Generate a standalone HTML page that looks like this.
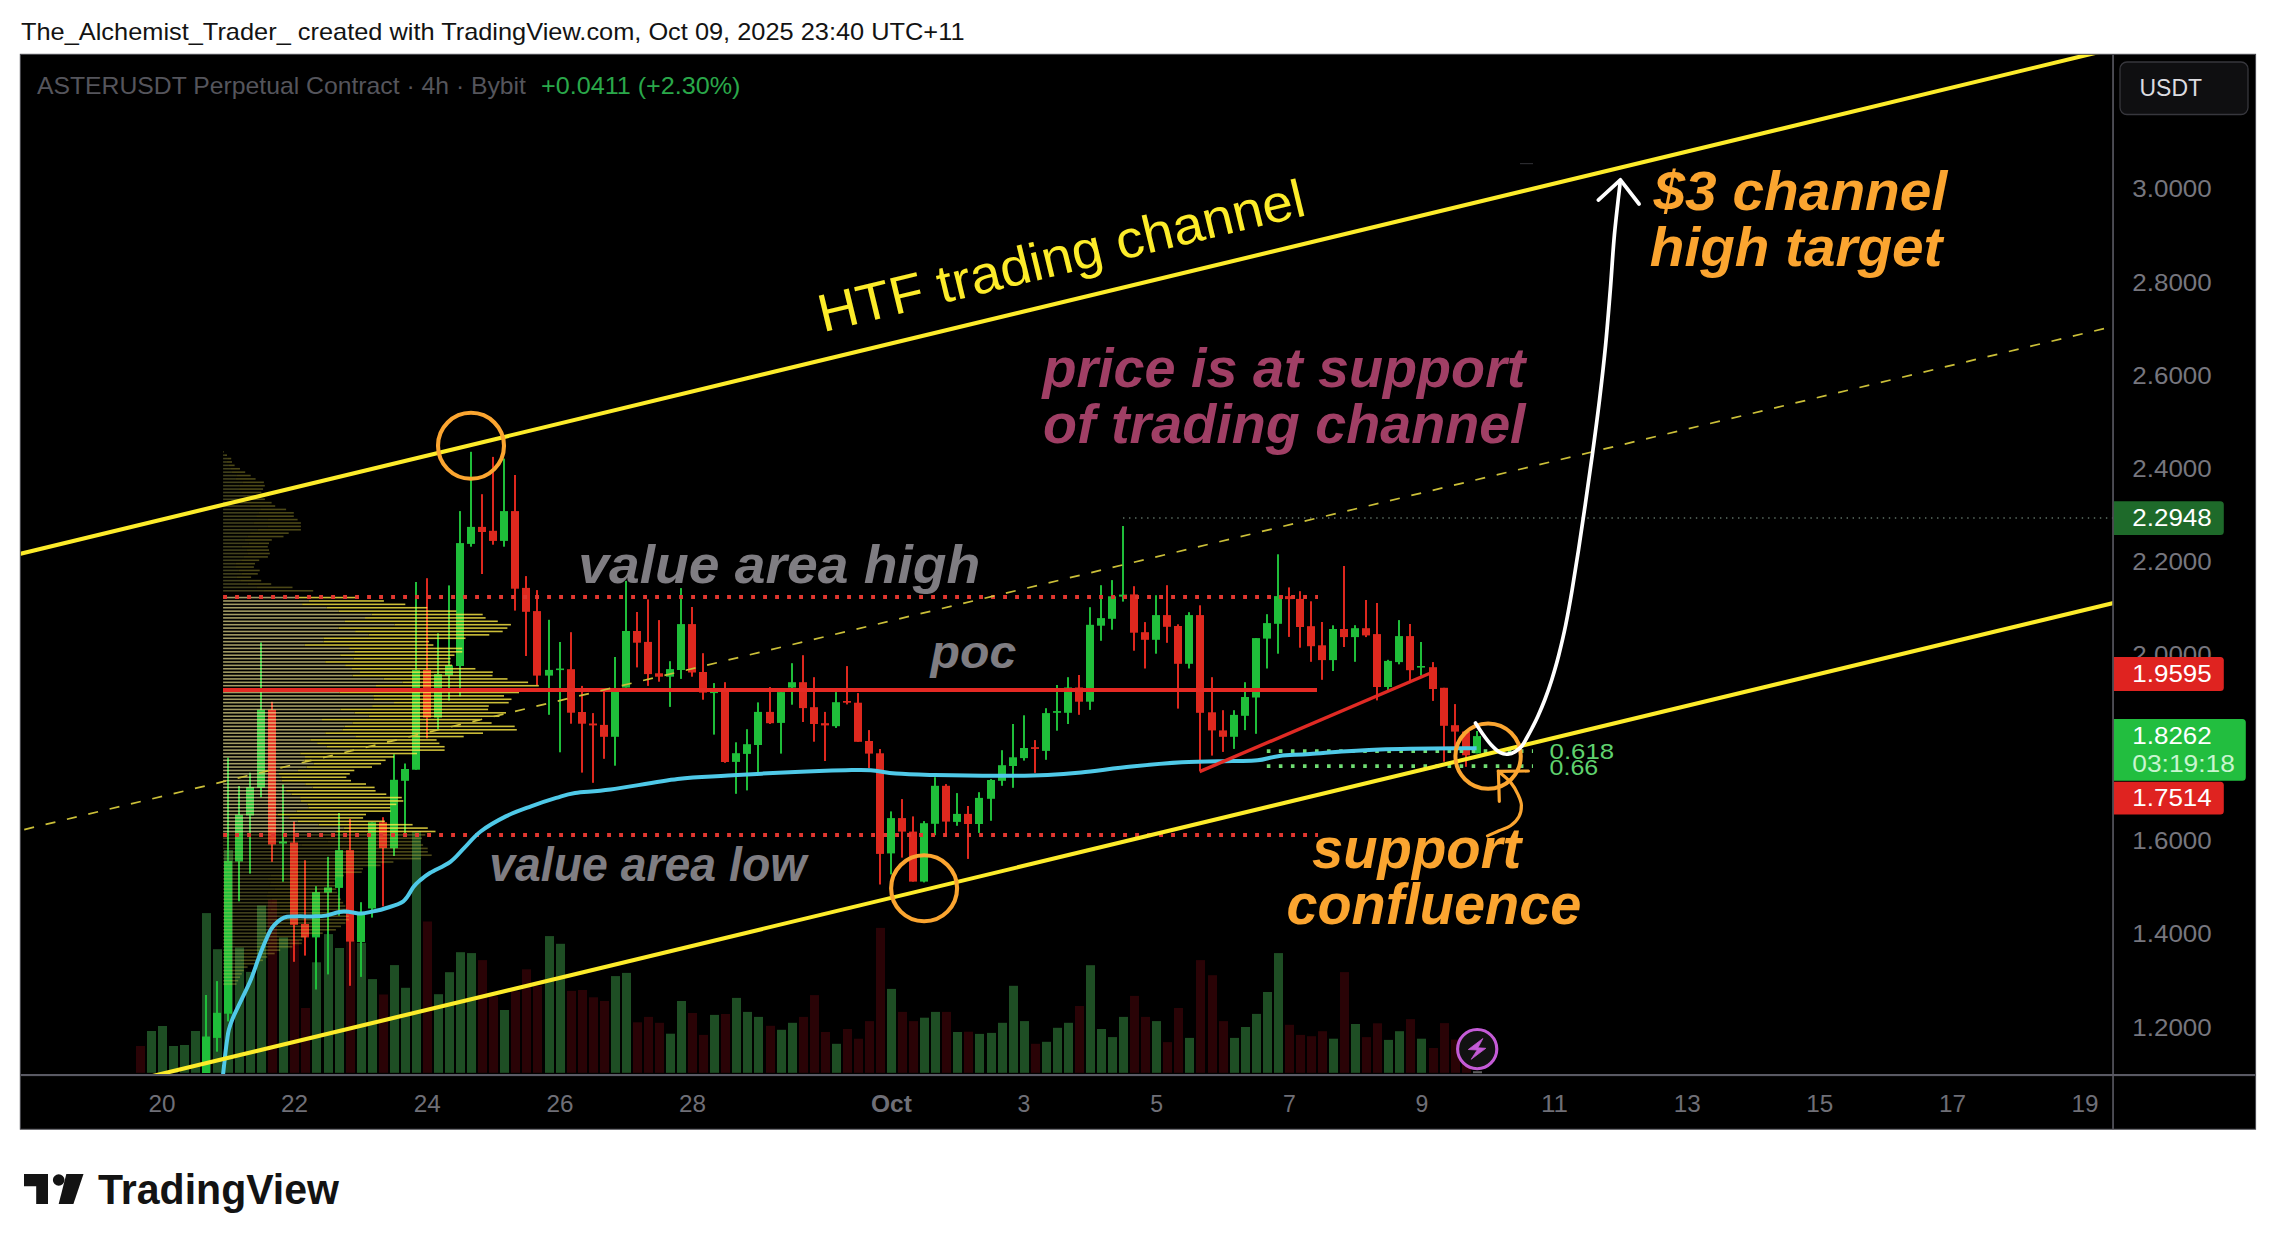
<!DOCTYPE html>
<html lang="en"><head><meta charset="utf-8"><title>ASTERUSDT chart</title>
<style>html,body{margin:0;padding:0;background:#fff;}body{width:2276px;height:1250px;overflow:hidden;}svg{display:block;}text{font-family:"Liberation Sans",sans-serif;}</style>
</head><body>
<svg width="2276" height="1250" viewBox="0 0 2276 1250">
<rect width="2276" height="1250" fill="#ffffff"/>
<text x="21" y="39.6" font-size="23.4" fill="#131313" textLength="943.5" lengthAdjust="spacingAndGlyphs">The_Alchemist_Trader_ created with TradingView.com, Oct 09, 2025 23:40 UTC+11</text>
<rect x="20.3" y="54.3" width="2235.3" height="1074.9" fill="#000000"/>
<clipPath id="plot"><rect x="20.3" y="54.3" width="2092.7" height="1020.9"/></clipPath>
<g clip-path="url(#plot)">
<rect x="136.0" y="1046.0" width="9" height="26.8" fill="#2a0306"/>
<rect x="147.0" y="1031.0" width="9" height="41.8" fill="#1e4e24"/>
<rect x="158.0" y="1026.0" width="9" height="46.8" fill="#1e4e24"/>
<rect x="169.0" y="1046.0" width="9" height="26.8" fill="#1e4e24"/>
<rect x="180.0" y="1045.0" width="9" height="27.8" fill="#1e4e24"/>
<rect x="191.0" y="1031.0" width="9" height="41.8" fill="#1e4e24"/>
<rect x="202.0" y="913.1" width="9" height="159.7" fill="#1e4e24"/>
<rect x="213.0" y="949.2" width="9" height="123.6" fill="#1e4e24"/>
<rect x="224.0" y="850.0" width="9" height="222.8" fill="#1e4e24"/>
<rect x="235.0" y="947.5" width="9" height="125.3" fill="#1e4e24"/>
<rect x="246.0" y="971.9" width="9" height="100.9" fill="#1e4e24"/>
<rect x="257.0" y="905.5" width="9" height="167.3" fill="#1e4e24"/>
<rect x="268.0" y="899.6" width="9" height="173.2" fill="#2a0306"/>
<rect x="279.0" y="937.4" width="9" height="135.4" fill="#1e4e24"/>
<rect x="290.0" y="940.0" width="9" height="132.8" fill="#2a0306"/>
<rect x="301.0" y="1008.0" width="9" height="64.8" fill="#2a0306"/>
<rect x="312.0" y="962.3" width="9" height="110.5" fill="#1e4e24"/>
<rect x="324.0" y="934.1" width="9" height="138.7" fill="#1e4e24"/>
<rect x="335.0" y="948.0" width="9" height="124.8" fill="#1e4e24"/>
<rect x="346.0" y="940.0" width="9" height="132.8" fill="#2a0306"/>
<rect x="357.0" y="942.8" width="9" height="130.0" fill="#1e4e24"/>
<rect x="368.0" y="979.1" width="9" height="93.7" fill="#1e4e24"/>
<rect x="379.0" y="994.5" width="9" height="78.3" fill="#2a0306"/>
<rect x="390.0" y="965.1" width="9" height="107.7" fill="#1e4e24"/>
<rect x="401.0" y="987.8" width="9" height="85.0" fill="#1e4e24"/>
<rect x="412.0" y="831.0" width="9" height="241.8" fill="#1e4e24"/>
<rect x="423.0" y="921.5" width="9" height="151.3" fill="#2a0306"/>
<rect x="434.0" y="994.2" width="9" height="78.6" fill="#1e4e24"/>
<rect x="445.0" y="972.2" width="9" height="100.6" fill="#1e4e24"/>
<rect x="456.0" y="952.2" width="9" height="120.6" fill="#1e4e24"/>
<rect x="467.0" y="953.1" width="9" height="119.7" fill="#1e4e24"/>
<rect x="478.0" y="960.1" width="9" height="112.7" fill="#2a0306"/>
<rect x="489.0" y="996.2" width="9" height="76.6" fill="#2a0306"/>
<rect x="500.0" y="1010.0" width="9" height="62.8" fill="#1e4e24"/>
<rect x="511.0" y="991.2" width="9" height="81.6" fill="#2a0306"/>
<rect x="522.0" y="969.3" width="9" height="103.5" fill="#2a0306"/>
<rect x="533.0" y="986.0" width="9" height="86.8" fill="#2a0306"/>
<rect x="545.0" y="936.1" width="9" height="136.7" fill="#1e4e24"/>
<rect x="556.0" y="943.8" width="9" height="129.0" fill="#1e4e24"/>
<rect x="567.0" y="990.9" width="9" height="81.9" fill="#2a0306"/>
<rect x="578.0" y="990.0" width="9" height="82.8" fill="#2a0306"/>
<rect x="589.0" y="997.3" width="9" height="75.5" fill="#2a0306"/>
<rect x="600.0" y="1001.0" width="9" height="71.8" fill="#2a0306"/>
<rect x="611.0" y="976.1" width="9" height="96.7" fill="#1e4e24"/>
<rect x="622.0" y="972.9" width="9" height="99.9" fill="#1e4e24"/>
<rect x="633.0" y="1022.3" width="9" height="50.5" fill="#2a0306"/>
<rect x="644.0" y="1016.9" width="9" height="55.9" fill="#2a0306"/>
<rect x="655.0" y="1022.8" width="9" height="50.0" fill="#2a0306"/>
<rect x="666.0" y="1033.7" width="9" height="39.1" fill="#1e4e24"/>
<rect x="677.0" y="1001.0" width="9" height="71.8" fill="#1e4e24"/>
<rect x="688.0" y="1013.0" width="9" height="59.8" fill="#2a0306"/>
<rect x="699.0" y="1034.9" width="9" height="37.9" fill="#2a0306"/>
<rect x="710.0" y="1014.9" width="9" height="57.9" fill="#1e4e24"/>
<rect x="721.0" y="1014.0" width="9" height="58.8" fill="#2a0306"/>
<rect x="732.0" y="997.9" width="9" height="74.9" fill="#1e4e24"/>
<rect x="743.0" y="1011.9" width="9" height="60.9" fill="#1e4e24"/>
<rect x="754.0" y="1016.9" width="9" height="55.9" fill="#1e4e24"/>
<rect x="766.0" y="1025.8" width="9" height="47.0" fill="#2a0306"/>
<rect x="777.0" y="1029.8" width="9" height="43.0" fill="#1e4e24"/>
<rect x="788.0" y="1022.8" width="9" height="50.0" fill="#1e4e24"/>
<rect x="799.0" y="1016.9" width="9" height="55.9" fill="#2a0306"/>
<rect x="810.0" y="995.1" width="9" height="77.7" fill="#2a0306"/>
<rect x="821.0" y="1032.0" width="9" height="40.8" fill="#2a0306"/>
<rect x="832.0" y="1043.8" width="9" height="29.0" fill="#1e4e24"/>
<rect x="843.0" y="1029.0" width="9" height="43.8" fill="#2a0306"/>
<rect x="854.0" y="1038.7" width="9" height="34.1" fill="#2a0306"/>
<rect x="865.0" y="1021.1" width="9" height="51.7" fill="#2a0306"/>
<rect x="876.0" y="927.9" width="9" height="144.9" fill="#2a0306"/>
<rect x="887.0" y="988.9" width="9" height="83.9" fill="#1e4e24"/>
<rect x="898.0" y="1011.9" width="9" height="60.9" fill="#2a0306"/>
<rect x="909.0" y="1021.1" width="9" height="51.7" fill="#2a0306"/>
<rect x="920.0" y="1017.7" width="9" height="55.1" fill="#1e4e24"/>
<rect x="931.0" y="1011.9" width="9" height="60.9" fill="#1e4e24"/>
<rect x="942.0" y="1011.9" width="9" height="60.9" fill="#2a0306"/>
<rect x="953.0" y="1032.0" width="9" height="40.8" fill="#1e4e24"/>
<rect x="964.0" y="1031.7" width="9" height="41.1" fill="#2a0306"/>
<rect x="975.0" y="1033.9" width="9" height="38.9" fill="#1e4e24"/>
<rect x="987.0" y="1032.9" width="9" height="39.9" fill="#1e4e24"/>
<rect x="998.0" y="1022.8" width="9" height="50.0" fill="#1e4e24"/>
<rect x="1009.0" y="985.8" width="9" height="87.0" fill="#1e4e24"/>
<rect x="1020.0" y="1021.1" width="9" height="51.7" fill="#1e4e24"/>
<rect x="1031.0" y="1043.8" width="9" height="29.0" fill="#2a0306"/>
<rect x="1042.0" y="1041.8" width="9" height="31.0" fill="#1e4e24"/>
<rect x="1053.0" y="1027.8" width="9" height="45.0" fill="#1e4e24"/>
<rect x="1064.0" y="1022.8" width="9" height="50.0" fill="#1e4e24"/>
<rect x="1075.0" y="1006.0" width="9" height="66.8" fill="#2a0306"/>
<rect x="1086.0" y="965.2" width="9" height="107.6" fill="#1e4e24"/>
<rect x="1097.0" y="1029.0" width="9" height="43.8" fill="#1e4e24"/>
<rect x="1108.0" y="1037.1" width="9" height="35.7" fill="#1e4e24"/>
<rect x="1119.0" y="1016.9" width="9" height="55.9" fill="#1e4e24"/>
<rect x="1130.0" y="995.9" width="9" height="76.9" fill="#2a0306"/>
<rect x="1141.0" y="1016.9" width="9" height="55.9" fill="#2a0306"/>
<rect x="1152.0" y="1021.1" width="9" height="51.7" fill="#1e4e24"/>
<rect x="1163.0" y="1042.1" width="9" height="30.7" fill="#2a0306"/>
<rect x="1174.0" y="1008.0" width="9" height="64.8" fill="#2a0306"/>
<rect x="1185.0" y="1037.9" width="9" height="34.9" fill="#1e4e24"/>
<rect x="1196.0" y="960.1" width="9" height="112.7" fill="#2a0306"/>
<rect x="1208.0" y="975.2" width="9" height="97.6" fill="#2a0306"/>
<rect x="1219.0" y="1021.1" width="9" height="51.7" fill="#2a0306"/>
<rect x="1230.0" y="1037.9" width="9" height="34.9" fill="#1e4e24"/>
<rect x="1241.0" y="1027.0" width="9" height="45.8" fill="#1e4e24"/>
<rect x="1252.0" y="1013.9" width="9" height="58.9" fill="#1e4e24"/>
<rect x="1263.0" y="992.0" width="9" height="80.8" fill="#1e4e24"/>
<rect x="1274.0" y="953.1" width="9" height="119.7" fill="#1e4e24"/>
<rect x="1285.0" y="1024.8" width="9" height="48.0" fill="#2a0306"/>
<rect x="1296.0" y="1034.9" width="9" height="37.9" fill="#2a0306"/>
<rect x="1307.0" y="1036.2" width="9" height="36.6" fill="#2a0306"/>
<rect x="1318.0" y="1031.2" width="9" height="41.6" fill="#2a0306"/>
<rect x="1329.0" y="1038.7" width="9" height="34.1" fill="#1e4e24"/>
<rect x="1340.0" y="972.1" width="9" height="100.7" fill="#2a0306"/>
<rect x="1351.0" y="1024.0" width="9" height="48.8" fill="#1e4e24"/>
<rect x="1362.0" y="1037.1" width="9" height="35.7" fill="#2a0306"/>
<rect x="1373.0" y="1023.3" width="9" height="49.5" fill="#2a0306"/>
<rect x="1384.0" y="1039.9" width="9" height="32.9" fill="#1e4e24"/>
<rect x="1395.0" y="1031.2" width="9" height="41.6" fill="#1e4e24"/>
<rect x="1406.0" y="1019.1" width="9" height="53.7" fill="#2a0306"/>
<rect x="1417.0" y="1038.7" width="9" height="34.1" fill="#1e4e24"/>
<rect x="1429.0" y="1048.0" width="9" height="24.8" fill="#2a0306"/>
<rect x="1440.0" y="1023.1" width="9" height="49.7" fill="#2a0306"/>
<rect x="1451.0" y="1039.6" width="9" height="33.2" fill="#2a0306"/>
<rect x="1462.0" y="1060.0" width="9" height="12.8" fill="#2a0306"/>
<rect x="1473.0" y="1074.0" width="9" height="-1.2" fill="#1e4e24"/>
<rect x="205.0" y="995.0" width="2" height="78.0" fill="#1fbe3a"/>
<rect x="202.0" y="1036.5" width="8" height="36.5" fill="#1fbe3a"/>
<rect x="216.0" y="981.1" width="2" height="70.6" fill="#1fbe3a"/>
<rect x="213.0" y="1012.8" width="8" height="25.1" fill="#1fbe3a"/>
<rect x="227.0" y="757.6" width="2" height="263.8" fill="#1fbe3a"/>
<rect x="224.0" y="861.0" width="8" height="152.7" fill="#1fbe3a"/>
<rect x="238.0" y="786.0" width="2" height="115.3" fill="#1fbe3a"/>
<rect x="235.0" y="814.7" width="8" height="46.8" fill="#1fbe3a"/>
<rect x="249.0" y="772.7" width="2" height="100.9" fill="#1fbe3a"/>
<rect x="246.0" y="787.0" width="8" height="28.5" fill="#1fbe3a"/>
<rect x="260.0" y="642.5" width="2" height="154.5" fill="#1fbe3a"/>
<rect x="257.0" y="709.7" width="8" height="78.1" fill="#1fbe3a"/>
<rect x="271.0" y="701.8" width="2" height="160.0" fill="#de281e"/>
<rect x="268.0" y="709.7" width="8" height="134.8" fill="#de281e"/>
<rect x="282.0" y="784.5" width="2" height="97.2" fill="#1fbe3a"/>
<rect x="279.0" y="841.5" width="8" height="2.0" fill="#1fbe3a"/>
<rect x="293.0" y="821.4" width="2" height="140.4" fill="#de281e"/>
<rect x="290.0" y="842.5" width="8" height="82.3" fill="#de281e"/>
<rect x="304.0" y="860.2" width="2" height="95.4" fill="#de281e"/>
<rect x="301.0" y="924.0" width="8" height="13.4" fill="#de281e"/>
<rect x="315.0" y="886.2" width="2" height="103.3" fill="#1fbe3a"/>
<rect x="312.0" y="892.1" width="8" height="45.3" fill="#1fbe3a"/>
<rect x="327.0" y="856.8" width="2" height="117.6" fill="#1fbe3a"/>
<rect x="324.0" y="887.5" width="8" height="5.1" fill="#1fbe3a"/>
<rect x="338.0" y="813.0" width="2" height="102.6" fill="#1fbe3a"/>
<rect x="335.0" y="850.1" width="8" height="37.8" fill="#1fbe3a"/>
<rect x="349.0" y="818.9" width="2" height="166.9" fill="#de281e"/>
<rect x="346.0" y="850.1" width="8" height="91.5" fill="#de281e"/>
<rect x="360.0" y="902.2" width="2" height="74.7" fill="#1fbe3a"/>
<rect x="357.0" y="913.9" width="8" height="28.1" fill="#1fbe3a"/>
<rect x="371.0" y="822.3" width="2" height="95.3" fill="#1fbe3a"/>
<rect x="368.0" y="822.3" width="8" height="86.2" fill="#1fbe3a"/>
<rect x="382.0" y="817.2" width="2" height="89.2" fill="#de281e"/>
<rect x="379.0" y="822.3" width="8" height="25.8" fill="#de281e"/>
<rect x="393.0" y="754.2" width="2" height="101.8" fill="#1fbe3a"/>
<rect x="390.0" y="779.8" width="8" height="68.4" fill="#1fbe3a"/>
<rect x="404.0" y="763.5" width="2" height="69.7" fill="#1fbe3a"/>
<rect x="401.0" y="769.0" width="8" height="11.8" fill="#1fbe3a"/>
<rect x="415.0" y="582.0" width="2" height="187.7" fill="#1fbe3a"/>
<rect x="412.0" y="669.9" width="8" height="99.8" fill="#1fbe3a"/>
<rect x="426.0" y="578.2" width="2" height="160.1" fill="#de281e"/>
<rect x="423.0" y="669.9" width="8" height="47.7" fill="#de281e"/>
<rect x="437.0" y="633.3" width="2" height="96.6" fill="#1fbe3a"/>
<rect x="434.0" y="674.1" width="8" height="43.5" fill="#1fbe3a"/>
<rect x="448.0" y="585.4" width="2" height="115.1" fill="#1fbe3a"/>
<rect x="445.0" y="665.2" width="8" height="10.1" fill="#1fbe3a"/>
<rect x="459.0" y="511.1" width="2" height="185.2" fill="#1fbe3a"/>
<rect x="456.0" y="543.1" width="8" height="122.9" fill="#1fbe3a"/>
<rect x="470.0" y="451.8" width="2" height="94.9" fill="#1fbe3a"/>
<rect x="467.0" y="526.9" width="8" height="17.0" fill="#1fbe3a"/>
<rect x="481.0" y="494.2" width="2" height="79.8" fill="#de281e"/>
<rect x="478.0" y="526.9" width="8" height="5.1" fill="#de281e"/>
<rect x="492.0" y="456.9" width="2" height="87.8" fill="#de281e"/>
<rect x="489.0" y="530.8" width="8" height="10.1" fill="#de281e"/>
<rect x="503.0" y="458.6" width="2" height="88.1" fill="#1fbe3a"/>
<rect x="500.0" y="511.1" width="8" height="29.8" fill="#1fbe3a"/>
<rect x="514.0" y="475.0" width="2" height="135.6" fill="#de281e"/>
<rect x="511.0" y="511.1" width="8" height="77.6" fill="#de281e"/>
<rect x="525.0" y="576.1" width="2" height="79.9" fill="#de281e"/>
<rect x="522.0" y="587.9" width="8" height="23.9" fill="#de281e"/>
<rect x="536.0" y="590.1" width="2" height="94.9" fill="#de281e"/>
<rect x="533.0" y="611.1" width="8" height="64.5" fill="#de281e"/>
<rect x="548.0" y="619.8" width="2" height="95.0" fill="#1fbe3a"/>
<rect x="545.0" y="669.9" width="8" height="5.7" fill="#1fbe3a"/>
<rect x="559.0" y="642.0" width="2" height="110.3" fill="#1fbe3a"/>
<rect x="556.0" y="668.5" width="8" height="1.6" fill="#1fbe3a"/>
<rect x="570.0" y="632.2" width="2" height="91.5" fill="#de281e"/>
<rect x="567.0" y="669.2" width="8" height="43.5" fill="#de281e"/>
<rect x="581.0" y="685.9" width="2" height="86.7" fill="#de281e"/>
<rect x="578.0" y="712.0" width="8" height="11.7" fill="#de281e"/>
<rect x="592.0" y="713.1" width="2" height="69.7" fill="#de281e"/>
<rect x="589.0" y="723.5" width="8" height="1.9" fill="#de281e"/>
<rect x="603.0" y="691.8" width="2" height="67.0" fill="#de281e"/>
<rect x="600.0" y="724.9" width="8" height="11.9" fill="#de281e"/>
<rect x="614.0" y="657.0" width="2" height="108.7" fill="#1fbe3a"/>
<rect x="611.0" y="691.8" width="8" height="45.0" fill="#1fbe3a"/>
<rect x="625.0" y="580.9" width="2" height="106.7" fill="#1fbe3a"/>
<rect x="622.0" y="631.0" width="8" height="56.6" fill="#1fbe3a"/>
<rect x="636.0" y="612.0" width="2" height="55.4" fill="#de281e"/>
<rect x="633.0" y="631.0" width="8" height="11.7" fill="#de281e"/>
<rect x="647.0" y="599.4" width="2" height="86.5" fill="#de281e"/>
<rect x="644.0" y="641.9" width="8" height="32.2" fill="#de281e"/>
<rect x="658.0" y="620.1" width="2" height="61.6" fill="#de281e"/>
<rect x="655.0" y="673.3" width="8" height="3.4" fill="#de281e"/>
<rect x="669.0" y="661.2" width="2" height="45.7" fill="#1fbe3a"/>
<rect x="666.0" y="669.1" width="8" height="7.6" fill="#1fbe3a"/>
<rect x="680.0" y="588.1" width="2" height="90.8" fill="#1fbe3a"/>
<rect x="677.0" y="624.1" width="8" height="45.9" fill="#1fbe3a"/>
<rect x="691.0" y="607.0" width="2" height="69.7" fill="#de281e"/>
<rect x="688.0" y="624.1" width="8" height="48.4" fill="#de281e"/>
<rect x="702.0" y="653.2" width="2" height="46.5" fill="#de281e"/>
<rect x="699.0" y="672.0" width="8" height="20.6" fill="#de281e"/>
<rect x="713.0" y="683.1" width="2" height="51.5" fill="#1fbe3a"/>
<rect x="710.0" y="691.5" width="8" height="1.6" fill="#1fbe3a"/>
<rect x="724.0" y="682.2" width="2" height="80.6" fill="#de281e"/>
<rect x="721.0" y="691.8" width="8" height="70.2" fill="#de281e"/>
<rect x="735.0" y="742.3" width="2" height="51.5" fill="#1fbe3a"/>
<rect x="732.0" y="753.2" width="8" height="8.7" fill="#1fbe3a"/>
<rect x="746.0" y="729.2" width="2" height="61.2" fill="#1fbe3a"/>
<rect x="743.0" y="744.2" width="8" height="9.7" fill="#1fbe3a"/>
<rect x="757.0" y="702.4" width="2" height="71.1" fill="#1fbe3a"/>
<rect x="754.0" y="711.9" width="8" height="33.1" fill="#1fbe3a"/>
<rect x="769.0" y="687.1" width="2" height="36.9" fill="#de281e"/>
<rect x="766.0" y="711.9" width="8" height="11.3" fill="#de281e"/>
<rect x="780.0" y="692.1" width="2" height="61.5" fill="#1fbe3a"/>
<rect x="777.0" y="692.1" width="8" height="30.8" fill="#1fbe3a"/>
<rect x="791.0" y="663.2" width="2" height="41.5" fill="#1fbe3a"/>
<rect x="788.0" y="682.2" width="8" height="5.4" fill="#1fbe3a"/>
<rect x="802.0" y="655.2" width="2" height="66.8" fill="#de281e"/>
<rect x="799.0" y="682.2" width="8" height="25.9" fill="#de281e"/>
<rect x="813.0" y="677.2" width="2" height="64.5" fill="#de281e"/>
<rect x="810.0" y="707.2" width="8" height="16.8" fill="#de281e"/>
<rect x="824.0" y="711.9" width="2" height="49.1" fill="#de281e"/>
<rect x="821.0" y="723.2" width="8" height="2.2" fill="#de281e"/>
<rect x="835.0" y="692.1" width="2" height="35.8" fill="#1fbe3a"/>
<rect x="832.0" y="702.2" width="8" height="24.0" fill="#1fbe3a"/>
<rect x="846.0" y="666.1" width="2" height="38.3" fill="#de281e"/>
<rect x="843.0" y="701.0" width="8" height="1.7" fill="#de281e"/>
<rect x="857.0" y="693.1" width="2" height="48.7" fill="#de281e"/>
<rect x="854.0" y="702.7" width="8" height="39.1" fill="#de281e"/>
<rect x="868.0" y="730.1" width="2" height="37.9" fill="#de281e"/>
<rect x="865.0" y="741.0" width="8" height="12.6" fill="#de281e"/>
<rect x="879.0" y="749.0" width="2" height="135.5" fill="#de281e"/>
<rect x="876.0" y="753.3" width="8" height="100.6" fill="#de281e"/>
<rect x="890.0" y="811.4" width="2" height="63.0" fill="#1fbe3a"/>
<rect x="887.0" y="818.1" width="8" height="35.3" fill="#1fbe3a"/>
<rect x="901.0" y="799.1" width="2" height="58.5" fill="#de281e"/>
<rect x="898.0" y="818.1" width="8" height="13.5" fill="#de281e"/>
<rect x="912.0" y="816.4" width="2" height="65.2" fill="#de281e"/>
<rect x="909.0" y="831.6" width="8" height="50.0" fill="#de281e"/>
<rect x="923.0" y="821.1" width="2" height="61.3" fill="#1fbe3a"/>
<rect x="920.0" y="823.2" width="8" height="58.4" fill="#1fbe3a"/>
<rect x="934.0" y="777.2" width="2" height="58.0" fill="#1fbe3a"/>
<rect x="931.0" y="785.8" width="8" height="38.0" fill="#1fbe3a"/>
<rect x="945.0" y="784.1" width="2" height="51.3" fill="#de281e"/>
<rect x="942.0" y="785.8" width="8" height="35.8" fill="#de281e"/>
<rect x="956.0" y="793.1" width="2" height="32.7" fill="#1fbe3a"/>
<rect x="953.0" y="813.9" width="8" height="8.0" fill="#1fbe3a"/>
<rect x="967.0" y="806.0" width="2" height="52.9" fill="#de281e"/>
<rect x="964.0" y="813.9" width="8" height="10.1" fill="#de281e"/>
<rect x="978.0" y="792.2" width="2" height="40.7" fill="#1fbe3a"/>
<rect x="975.0" y="797.9" width="8" height="26.1" fill="#1fbe3a"/>
<rect x="990.0" y="779.1" width="2" height="41.7" fill="#1fbe3a"/>
<rect x="987.0" y="780.0" width="8" height="18.8" fill="#1fbe3a"/>
<rect x="1001.0" y="750.2" width="2" height="35.6" fill="#1fbe3a"/>
<rect x="998.0" y="765.2" width="8" height="15.6" fill="#1fbe3a"/>
<rect x="1012.0" y="724.0" width="2" height="63.8" fill="#1fbe3a"/>
<rect x="1009.0" y="757.3" width="8" height="8.7" fill="#1fbe3a"/>
<rect x="1023.0" y="715.3" width="2" height="45.3" fill="#1fbe3a"/>
<rect x="1020.0" y="748.0" width="8" height="10.1" fill="#1fbe3a"/>
<rect x="1034.0" y="740.1" width="2" height="32.8" fill="#de281e"/>
<rect x="1031.0" y="747.2" width="8" height="1.7" fill="#de281e"/>
<rect x="1045.0" y="708.2" width="2" height="51.6" fill="#1fbe3a"/>
<rect x="1042.0" y="713.1" width="8" height="37.8" fill="#1fbe3a"/>
<rect x="1056.0" y="685.0" width="2" height="45.7" fill="#1fbe3a"/>
<rect x="1053.0" y="711.1" width="8" height="1.7" fill="#1fbe3a"/>
<rect x="1067.0" y="677.2" width="2" height="46.8" fill="#1fbe3a"/>
<rect x="1064.0" y="687.5" width="8" height="25.3" fill="#1fbe3a"/>
<rect x="1078.0" y="675.0" width="2" height="39.8" fill="#de281e"/>
<rect x="1075.0" y="687.5" width="8" height="14.2" fill="#de281e"/>
<rect x="1089.0" y="607.2" width="2" height="102.7" fill="#1fbe3a"/>
<rect x="1086.0" y="624.8" width="8" height="76.9" fill="#1fbe3a"/>
<rect x="1100.0" y="585.2" width="2" height="55.6" fill="#1fbe3a"/>
<rect x="1097.0" y="618.1" width="8" height="7.6" fill="#1fbe3a"/>
<rect x="1111.0" y="580.1" width="2" height="49.6" fill="#1fbe3a"/>
<rect x="1108.0" y="596.3" width="8" height="22.5" fill="#1fbe3a"/>
<rect x="1122.0" y="526.0" width="2" height="75.6" fill="#1fbe3a"/>
<rect x="1119.0" y="594.6" width="8" height="2.0" fill="#1fbe3a"/>
<rect x="1133.0" y="586.2" width="2" height="64.5" fill="#de281e"/>
<rect x="1130.0" y="594.4" width="8" height="38.3" fill="#de281e"/>
<rect x="1144.0" y="622.1" width="2" height="46.4" fill="#de281e"/>
<rect x="1141.0" y="632.2" width="8" height="7.6" fill="#de281e"/>
<rect x="1155.0" y="595.2" width="2" height="58.5" fill="#1fbe3a"/>
<rect x="1152.0" y="615.1" width="8" height="24.7" fill="#1fbe3a"/>
<rect x="1166.0" y="585.2" width="2" height="57.6" fill="#de281e"/>
<rect x="1163.0" y="615.1" width="8" height="11.7" fill="#de281e"/>
<rect x="1177.0" y="624.3" width="2" height="84.3" fill="#de281e"/>
<rect x="1174.0" y="626.0" width="8" height="37.8" fill="#de281e"/>
<rect x="1188.0" y="612.2" width="2" height="56.3" fill="#1fbe3a"/>
<rect x="1185.0" y="615.1" width="8" height="48.7" fill="#1fbe3a"/>
<rect x="1199.0" y="605.3" width="2" height="165.2" fill="#de281e"/>
<rect x="1196.0" y="615.1" width="8" height="97.7" fill="#de281e"/>
<rect x="1211.0" y="677.2" width="2" height="78.4" fill="#de281e"/>
<rect x="1208.0" y="712.3" width="8" height="18.1" fill="#de281e"/>
<rect x="1222.0" y="710.2" width="2" height="41.7" fill="#de281e"/>
<rect x="1219.0" y="730.4" width="8" height="6.4" fill="#de281e"/>
<rect x="1233.0" y="710.2" width="2" height="38.7" fill="#1fbe3a"/>
<rect x="1230.0" y="714.9" width="8" height="21.9" fill="#1fbe3a"/>
<rect x="1244.0" y="682.2" width="2" height="47.9" fill="#1fbe3a"/>
<rect x="1241.0" y="697.0" width="8" height="18.8" fill="#1fbe3a"/>
<rect x="1255.0" y="638.1" width="2" height="95.7" fill="#1fbe3a"/>
<rect x="1252.0" y="638.1" width="8" height="59.4" fill="#1fbe3a"/>
<rect x="1266.0" y="614.2" width="2" height="54.3" fill="#1fbe3a"/>
<rect x="1263.0" y="623.1" width="8" height="15.5" fill="#1fbe3a"/>
<rect x="1277.0" y="554.3" width="2" height="99.4" fill="#1fbe3a"/>
<rect x="1274.0" y="596.1" width="8" height="27.7" fill="#1fbe3a"/>
<rect x="1288.0" y="587.4" width="2" height="49.5" fill="#de281e"/>
<rect x="1285.0" y="596.1" width="8" height="3.0" fill="#de281e"/>
<rect x="1299.0" y="591.2" width="2" height="56.5" fill="#de281e"/>
<rect x="1296.0" y="598.9" width="8" height="28.1" fill="#de281e"/>
<rect x="1310.0" y="601.3" width="2" height="60.5" fill="#de281e"/>
<rect x="1307.0" y="626.2" width="8" height="20.0" fill="#de281e"/>
<rect x="1321.0" y="622.0" width="2" height="57.8" fill="#de281e"/>
<rect x="1318.0" y="645.3" width="8" height="14.8" fill="#de281e"/>
<rect x="1332.0" y="625.3" width="2" height="45.7" fill="#1fbe3a"/>
<rect x="1329.0" y="629.0" width="8" height="31.1" fill="#1fbe3a"/>
<rect x="1343.0" y="566.0" width="2" height="81.0" fill="#de281e"/>
<rect x="1340.0" y="629.0" width="8" height="8.1" fill="#de281e"/>
<rect x="1354.0" y="625.2" width="2" height="36.6" fill="#1fbe3a"/>
<rect x="1351.0" y="628.2" width="8" height="8.9" fill="#1fbe3a"/>
<rect x="1365.0" y="600.0" width="2" height="37.1" fill="#de281e"/>
<rect x="1362.0" y="628.2" width="8" height="7.2" fill="#de281e"/>
<rect x="1376.0" y="603.0" width="2" height="97.4" fill="#de281e"/>
<rect x="1373.0" y="634.1" width="8" height="52.9" fill="#de281e"/>
<rect x="1387.0" y="659.8" width="2" height="30.2" fill="#1fbe3a"/>
<rect x="1384.0" y="660.9" width="8" height="26.1" fill="#1fbe3a"/>
<rect x="1398.0" y="620.1" width="2" height="44.2" fill="#1fbe3a"/>
<rect x="1395.0" y="636.1" width="8" height="26.0" fill="#1fbe3a"/>
<rect x="1409.0" y="624.0" width="2" height="57.1" fill="#de281e"/>
<rect x="1406.0" y="636.1" width="8" height="34.1" fill="#de281e"/>
<rect x="1420.0" y="642.0" width="2" height="33.7" fill="#1fbe3a"/>
<rect x="1417.0" y="666.0" width="8" height="1.6" fill="#1fbe3a"/>
<rect x="1432.0" y="662.1" width="2" height="38.8" fill="#de281e"/>
<rect x="1429.0" y="667.2" width="8" height="21.8" fill="#de281e"/>
<rect x="1443.0" y="687.8" width="2" height="73.9" fill="#de281e"/>
<rect x="1440.0" y="687.8" width="8" height="38.0" fill="#de281e"/>
<rect x="1454.0" y="704.1" width="2" height="53.9" fill="#de281e"/>
<rect x="1451.0" y="725.2" width="8" height="6.4" fill="#de281e"/>
<rect x="1465.0" y="731.6" width="2" height="35.2" fill="#de281e"/>
<rect x="1462.0" y="731.6" width="8" height="23.7" fill="#de281e"/>
<rect x="1476.0" y="731.0" width="2" height="22.3" fill="#1fbe3a"/>
<rect x="1473.0" y="736.1" width="8" height="17.2" fill="#1fbe3a"/>
<rect x="223.1" y="451.00" width="0.4" height="1.6" fill="rgba(220,214,92,0.30)"/>
<rect x="223.5" y="451.00" width="0.4" height="1.6" fill="rgba(230,220,70,0.33)"/>
<rect x="223.1" y="454.39" width="1.6" height="1.6" fill="rgba(220,214,92,0.30)"/>
<rect x="224.7" y="454.39" width="2.3" height="1.6" fill="rgba(230,220,70,0.33)"/>
<rect x="223.1" y="457.78" width="4.2" height="1.6" fill="rgba(220,214,92,0.30)"/>
<rect x="227.3" y="457.78" width="3.9" height="1.6" fill="rgba(230,220,70,0.33)"/>
<rect x="223.1" y="461.17" width="3.5" height="1.6" fill="rgba(220,214,92,0.30)"/>
<rect x="226.6" y="461.17" width="5.4" height="1.6" fill="rgba(230,220,70,0.33)"/>
<rect x="223.1" y="464.56" width="5.7" height="1.6" fill="rgba(220,214,92,0.30)"/>
<rect x="228.8" y="464.56" width="5.8" height="1.6" fill="rgba(230,220,70,0.33)"/>
<rect x="223.1" y="467.95" width="7.8" height="1.6" fill="rgba(220,214,92,0.30)"/>
<rect x="230.9" y="467.95" width="9.1" height="1.6" fill="rgba(230,220,70,0.33)"/>
<rect x="223.1" y="471.34" width="8.7" height="1.6" fill="rgba(220,214,92,0.30)"/>
<rect x="231.8" y="471.34" width="13.4" height="1.6" fill="rgba(230,220,70,0.33)"/>
<rect x="223.1" y="474.73" width="13.6" height="1.6" fill="rgba(220,214,92,0.30)"/>
<rect x="236.7" y="474.73" width="14.0" height="1.6" fill="rgba(230,220,70,0.33)"/>
<rect x="223.1" y="478.12" width="12.6" height="1.6" fill="rgba(220,214,92,0.30)"/>
<rect x="235.7" y="478.12" width="19.9" height="1.6" fill="rgba(230,220,70,0.33)"/>
<rect x="223.1" y="481.51" width="19.4" height="1.6" fill="rgba(220,214,92,0.30)"/>
<rect x="242.5" y="481.51" width="21.4" height="1.6" fill="rgba(230,220,70,0.33)"/>
<rect x="223.1" y="484.90" width="16.5" height="1.6" fill="rgba(220,214,92,0.30)"/>
<rect x="239.6" y="484.90" width="25.2" height="1.6" fill="rgba(230,220,70,0.33)"/>
<rect x="223.1" y="488.29" width="16.0" height="1.6" fill="rgba(220,214,92,0.30)"/>
<rect x="239.1" y="488.29" width="24.0" height="1.6" fill="rgba(230,220,70,0.33)"/>
<rect x="223.1" y="491.68" width="18.1" height="1.6" fill="rgba(220,214,92,0.30)"/>
<rect x="241.2" y="491.68" width="20.1" height="1.6" fill="rgba(230,220,70,0.33)"/>
<rect x="223.1" y="495.07" width="23.6" height="1.6" fill="rgba(220,214,92,0.30)"/>
<rect x="246.7" y="495.07" width="18.4" height="1.6" fill="rgba(230,220,70,0.33)"/>
<rect x="223.1" y="498.46" width="17.0" height="1.6" fill="rgba(220,214,92,0.30)"/>
<rect x="240.1" y="498.46" width="24.8" height="1.6" fill="rgba(230,220,70,0.33)"/>
<rect x="223.1" y="501.85" width="20.8" height="1.6" fill="rgba(220,214,92,0.30)"/>
<rect x="243.9" y="501.85" width="27.7" height="1.6" fill="rgba(230,220,70,0.33)"/>
<rect x="223.1" y="505.24" width="27.0" height="1.6" fill="rgba(220,214,92,0.30)"/>
<rect x="250.1" y="505.24" width="25.1" height="1.6" fill="rgba(230,220,70,0.33)"/>
<rect x="223.1" y="508.63" width="37.1" height="1.6" fill="rgba(220,214,92,0.30)"/>
<rect x="260.2" y="508.63" width="25.9" height="1.6" fill="rgba(230,220,70,0.33)"/>
<rect x="223.1" y="512.02" width="35.8" height="1.6" fill="rgba(220,214,92,0.30)"/>
<rect x="258.9" y="512.02" width="34.9" height="1.6" fill="rgba(230,220,70,0.33)"/>
<rect x="223.1" y="515.41" width="33.0" height="1.6" fill="rgba(220,214,92,0.30)"/>
<rect x="256.1" y="515.41" width="37.7" height="1.6" fill="rgba(230,220,70,0.33)"/>
<rect x="223.1" y="518.80" width="44.3" height="1.6" fill="rgba(220,214,92,0.30)"/>
<rect x="267.4" y="518.80" width="30.2" height="1.6" fill="rgba(230,220,70,0.33)"/>
<rect x="223.1" y="522.19" width="30.4" height="1.6" fill="rgba(220,214,92,0.30)"/>
<rect x="253.5" y="522.19" width="47.4" height="1.6" fill="rgba(230,220,70,0.33)"/>
<rect x="223.1" y="525.58" width="44.3" height="1.6" fill="rgba(220,214,92,0.30)"/>
<rect x="267.4" y="525.58" width="33.5" height="1.6" fill="rgba(230,220,70,0.33)"/>
<rect x="223.1" y="528.97" width="34.5" height="1.6" fill="rgba(220,214,92,0.30)"/>
<rect x="257.6" y="528.97" width="43.3" height="1.6" fill="rgba(230,220,70,0.33)"/>
<rect x="223.1" y="532.36" width="27.0" height="1.6" fill="rgba(220,214,92,0.30)"/>
<rect x="250.1" y="532.36" width="38.6" height="1.6" fill="rgba(230,220,70,0.33)"/>
<rect x="223.1" y="535.75" width="24.5" height="1.6" fill="rgba(220,214,92,0.30)"/>
<rect x="247.6" y="535.75" width="35.9" height="1.6" fill="rgba(230,220,70,0.33)"/>
<rect x="223.1" y="539.14" width="21.8" height="1.6" fill="rgba(220,214,92,0.30)"/>
<rect x="244.9" y="539.14" width="26.9" height="1.6" fill="rgba(230,220,70,0.33)"/>
<rect x="223.1" y="542.53" width="25.7" height="1.6" fill="rgba(220,214,92,0.30)"/>
<rect x="248.8" y="542.53" width="20.2" height="1.6" fill="rgba(230,220,70,0.33)"/>
<rect x="223.1" y="545.92" width="18.8" height="1.6" fill="rgba(220,214,92,0.30)"/>
<rect x="241.9" y="545.92" width="25.9" height="1.6" fill="rgba(230,220,70,0.33)"/>
<rect x="223.1" y="549.31" width="23.3" height="1.6" fill="rgba(220,214,92,0.30)"/>
<rect x="246.4" y="549.31" width="22.6" height="1.6" fill="rgba(230,220,70,0.33)"/>
<rect x="223.1" y="552.70" width="24.3" height="1.6" fill="rgba(220,214,92,0.30)"/>
<rect x="247.4" y="552.70" width="22.4" height="1.6" fill="rgba(230,220,70,0.33)"/>
<rect x="223.1" y="556.09" width="20.7" height="1.6" fill="rgba(220,214,92,0.30)"/>
<rect x="243.8" y="556.09" width="24.1" height="1.6" fill="rgba(230,220,70,0.33)"/>
<rect x="223.1" y="559.48" width="18.1" height="1.6" fill="rgba(220,214,92,0.30)"/>
<rect x="241.2" y="559.48" width="18.0" height="1.6" fill="rgba(230,220,70,0.33)"/>
<rect x="223.1" y="562.87" width="12.6" height="1.6" fill="rgba(220,214,92,0.30)"/>
<rect x="235.7" y="562.87" width="19.3" height="1.6" fill="rgba(230,220,70,0.33)"/>
<rect x="223.1" y="566.26" width="12.1" height="1.6" fill="rgba(220,214,92,0.30)"/>
<rect x="235.2" y="566.26" width="18.7" height="1.6" fill="rgba(230,220,70,0.33)"/>
<rect x="223.1" y="569.65" width="15.6" height="1.6" fill="rgba(220,214,92,0.30)"/>
<rect x="238.7" y="569.65" width="21.0" height="1.6" fill="rgba(230,220,70,0.33)"/>
<rect x="223.1" y="573.04" width="18.4" height="1.6" fill="rgba(220,214,92,0.30)"/>
<rect x="241.5" y="573.04" width="16.3" height="1.6" fill="rgba(230,220,70,0.33)"/>
<rect x="223.1" y="576.43" width="13.3" height="1.6" fill="rgba(220,214,92,0.30)"/>
<rect x="236.4" y="576.43" width="14.7" height="1.6" fill="rgba(230,220,70,0.33)"/>
<rect x="223.1" y="579.82" width="17.1" height="1.6" fill="rgba(220,214,92,0.30)"/>
<rect x="240.2" y="579.82" width="21.0" height="1.6" fill="rgba(230,220,70,0.33)"/>
<rect x="223.1" y="583.21" width="24.5" height="1.6" fill="rgba(220,214,92,0.30)"/>
<rect x="247.6" y="583.21" width="23.6" height="1.6" fill="rgba(230,220,70,0.33)"/>
<rect x="223.1" y="586.60" width="33.3" height="1.6" fill="rgba(220,214,92,0.30)"/>
<rect x="256.4" y="586.60" width="36.1" height="1.6" fill="rgba(230,220,70,0.33)"/>
<rect x="223.1" y="589.99" width="40.2" height="1.6" fill="rgba(220,214,92,0.30)"/>
<rect x="263.3" y="589.99" width="49.9" height="1.6" fill="rgba(230,220,70,0.33)"/>
<rect x="223.1" y="596.77" width="74.7" height="1.6" fill="rgba(246,236,152,0.66)"/>
<rect x="297.8" y="596.77" width="60.0" height="1.6" fill="rgba(255,238,70,0.80)"/>
<rect x="223.1" y="600.16" width="85.8" height="1.6" fill="rgba(246,236,152,0.66)"/>
<rect x="308.9" y="600.16" width="75.0" height="1.6" fill="rgba(255,238,70,0.80)"/>
<rect x="223.1" y="603.55" width="79.0" height="1.6" fill="rgba(246,236,152,0.66)"/>
<rect x="302.1" y="603.55" width="103.2" height="1.6" fill="rgba(255,238,70,0.80)"/>
<rect x="223.1" y="606.94" width="103.4" height="1.6" fill="rgba(246,236,152,0.66)"/>
<rect x="326.5" y="606.94" width="100.8" height="1.6" fill="rgba(255,238,70,0.80)"/>
<rect x="223.1" y="610.33" width="115.6" height="1.6" fill="rgba(246,236,152,0.66)"/>
<rect x="338.7" y="610.33" width="117.7" height="1.6" fill="rgba(255,238,70,0.80)"/>
<rect x="223.1" y="613.72" width="148.6" height="1.6" fill="rgba(246,236,152,0.66)"/>
<rect x="371.7" y="613.72" width="111.0" height="1.6" fill="rgba(255,238,70,0.80)"/>
<rect x="223.1" y="617.11" width="141.9" height="1.6" fill="rgba(246,236,152,0.66)"/>
<rect x="365.0" y="617.11" width="120.6" height="1.6" fill="rgba(255,238,70,0.80)"/>
<rect x="223.1" y="620.50" width="121.8" height="1.6" fill="rgba(246,236,152,0.66)"/>
<rect x="344.9" y="620.50" width="152.9" height="1.6" fill="rgba(255,238,70,0.80)"/>
<rect x="223.1" y="623.89" width="171.4" height="1.6" fill="rgba(246,236,152,0.66)"/>
<rect x="394.5" y="623.89" width="116.4" height="1.6" fill="rgba(255,238,70,0.80)"/>
<rect x="223.1" y="627.28" width="115.4" height="1.6" fill="rgba(246,236,152,0.66)"/>
<rect x="338.5" y="627.28" width="168.9" height="1.6" fill="rgba(255,238,70,0.80)"/>
<rect x="223.1" y="630.67" width="132.0" height="1.6" fill="rgba(246,236,152,0.66)"/>
<rect x="355.1" y="630.67" width="147.6" height="1.6" fill="rgba(255,238,70,0.80)"/>
<rect x="223.1" y="634.06" width="145.5" height="1.6" fill="rgba(246,236,152,0.66)"/>
<rect x="368.6" y="634.06" width="120.7" height="1.6" fill="rgba(255,238,70,0.80)"/>
<rect x="223.1" y="637.45" width="100.2" height="1.6" fill="rgba(246,236,152,0.66)"/>
<rect x="323.3" y="637.45" width="142.2" height="1.6" fill="rgba(255,238,70,0.80)"/>
<rect x="223.1" y="640.84" width="100.4" height="1.6" fill="rgba(246,236,152,0.66)"/>
<rect x="323.5" y="640.84" width="105.6" height="1.6" fill="rgba(255,238,70,0.80)"/>
<rect x="223.1" y="644.23" width="81.7" height="1.6" fill="rgba(246,236,152,0.66)"/>
<rect x="304.8" y="644.23" width="128.6" height="1.6" fill="rgba(255,238,70,0.80)"/>
<rect x="223.1" y="647.62" width="126.0" height="1.6" fill="rgba(246,236,152,0.66)"/>
<rect x="349.1" y="647.62" width="113.1" height="1.6" fill="rgba(255,238,70,0.80)"/>
<rect x="223.1" y="651.01" width="131.1" height="1.6" fill="rgba(246,236,152,0.66)"/>
<rect x="354.2" y="651.01" width="108.1" height="1.6" fill="rgba(255,238,70,0.80)"/>
<rect x="223.1" y="654.40" width="117.1" height="1.6" fill="rgba(246,236,152,0.66)"/>
<rect x="340.2" y="654.40" width="114.3" height="1.6" fill="rgba(255,238,70,0.80)"/>
<rect x="223.1" y="657.79" width="130.3" height="1.6" fill="rgba(246,236,152,0.66)"/>
<rect x="353.4" y="657.79" width="97.2" height="1.6" fill="rgba(255,238,70,0.80)"/>
<rect x="223.1" y="661.18" width="102.1" height="1.6" fill="rgba(246,236,152,0.66)"/>
<rect x="325.2" y="661.18" width="125.2" height="1.6" fill="rgba(255,238,70,0.80)"/>
<rect x="223.1" y="664.57" width="122.0" height="1.6" fill="rgba(246,236,152,0.66)"/>
<rect x="345.1" y="664.57" width="106.9" height="1.6" fill="rgba(255,238,70,0.80)"/>
<rect x="223.1" y="667.96" width="128.9" height="1.6" fill="rgba(246,236,152,0.66)"/>
<rect x="352.0" y="667.96" width="123.4" height="1.6" fill="rgba(255,238,70,0.80)"/>
<rect x="223.1" y="671.35" width="136.9" height="1.6" fill="rgba(246,236,152,0.66)"/>
<rect x="360.0" y="671.35" width="132.8" height="1.6" fill="rgba(255,238,70,0.80)"/>
<rect x="223.1" y="674.74" width="129.4" height="1.6" fill="rgba(246,236,152,0.66)"/>
<rect x="352.5" y="674.74" width="140.0" height="1.6" fill="rgba(255,238,70,0.80)"/>
<rect x="223.1" y="678.13" width="160.6" height="1.6" fill="rgba(246,236,152,0.66)"/>
<rect x="383.7" y="678.13" width="123.8" height="1.6" fill="rgba(255,238,70,0.80)"/>
<rect x="223.1" y="681.52" width="179.3" height="1.6" fill="rgba(246,236,152,0.66)"/>
<rect x="402.4" y="681.52" width="125.7" height="1.6" fill="rgba(255,238,70,0.80)"/>
<rect x="223.1" y="684.91" width="152.9" height="1.6" fill="rgba(246,236,152,0.66)"/>
<rect x="376.0" y="684.91" width="162.8" height="1.6" fill="rgba(255,238,70,0.80)"/>
<rect x="223.1" y="688.30" width="170.0" height="1.6" fill="rgba(246,236,152,0.66)"/>
<rect x="393.1" y="688.30" width="153.1" height="1.6" fill="rgba(255,238,70,0.80)"/>
<rect x="223.1" y="691.69" width="116.4" height="1.6" fill="rgba(246,236,152,0.66)"/>
<rect x="339.5" y="691.69" width="179.5" height="1.6" fill="rgba(255,238,70,0.80)"/>
<rect x="223.1" y="695.08" width="150.1" height="1.6" fill="rgba(246,236,152,0.66)"/>
<rect x="373.2" y="695.08" width="130.8" height="1.6" fill="rgba(255,238,70,0.80)"/>
<rect x="223.1" y="698.47" width="150.7" height="1.6" fill="rgba(246,236,152,0.66)"/>
<rect x="373.8" y="698.47" width="137.7" height="1.6" fill="rgba(255,238,70,0.80)"/>
<rect x="223.1" y="701.86" width="170.9" height="1.6" fill="rgba(246,236,152,0.66)"/>
<rect x="394.0" y="701.86" width="114.7" height="1.6" fill="rgba(255,238,70,0.80)"/>
<rect x="223.1" y="705.25" width="149.0" height="1.6" fill="rgba(246,236,152,0.66)"/>
<rect x="372.1" y="705.25" width="116.7" height="1.6" fill="rgba(255,238,70,0.80)"/>
<rect x="223.1" y="708.64" width="117.3" height="1.6" fill="rgba(246,236,152,0.66)"/>
<rect x="340.4" y="708.64" width="147.7" height="1.6" fill="rgba(255,238,70,0.80)"/>
<rect x="223.1" y="712.03" width="131.5" height="1.6" fill="rgba(246,236,152,0.66)"/>
<rect x="354.6" y="712.03" width="151.4" height="1.6" fill="rgba(255,238,70,0.80)"/>
<rect x="223.1" y="715.42" width="145.7" height="1.6" fill="rgba(246,236,152,0.66)"/>
<rect x="368.8" y="715.42" width="130.7" height="1.6" fill="rgba(255,238,70,0.80)"/>
<rect x="223.1" y="718.81" width="98.9" height="1.6" fill="rgba(246,236,152,0.66)"/>
<rect x="322.0" y="718.81" width="158.0" height="1.6" fill="rgba(255,238,70,0.80)"/>
<rect x="223.1" y="722.20" width="129.3" height="1.6" fill="rgba(246,236,152,0.66)"/>
<rect x="352.4" y="722.20" width="139.2" height="1.6" fill="rgba(255,238,70,0.80)"/>
<rect x="223.1" y="725.59" width="121.6" height="1.6" fill="rgba(246,236,152,0.66)"/>
<rect x="344.7" y="725.59" width="170.0" height="1.6" fill="rgba(255,238,70,0.80)"/>
<rect x="223.1" y="728.98" width="119.2" height="1.6" fill="rgba(246,236,152,0.66)"/>
<rect x="342.3" y="728.98" width="174.5" height="1.6" fill="rgba(255,238,70,0.80)"/>
<rect x="223.1" y="732.37" width="102.1" height="1.6" fill="rgba(246,236,152,0.66)"/>
<rect x="325.2" y="732.37" width="157.8" height="1.6" fill="rgba(255,238,70,0.80)"/>
<rect x="223.1" y="735.76" width="132.1" height="1.6" fill="rgba(246,236,152,0.66)"/>
<rect x="355.2" y="735.76" width="108.5" height="1.6" fill="rgba(255,238,70,0.80)"/>
<rect x="223.1" y="739.15" width="87.2" height="1.6" fill="rgba(246,236,152,0.66)"/>
<rect x="310.3" y="739.15" width="126.3" height="1.6" fill="rgba(255,238,70,0.80)"/>
<rect x="223.1" y="742.54" width="94.0" height="1.6" fill="rgba(246,236,152,0.66)"/>
<rect x="317.1" y="742.54" width="122.3" height="1.6" fill="rgba(255,238,70,0.80)"/>
<rect x="223.1" y="745.93" width="103.2" height="1.6" fill="rgba(246,236,152,0.66)"/>
<rect x="326.3" y="745.93" width="118.3" height="1.6" fill="rgba(255,238,70,0.80)"/>
<rect x="223.1" y="749.32" width="126.6" height="1.6" fill="rgba(246,236,152,0.66)"/>
<rect x="349.7" y="749.32" width="94.9" height="1.6" fill="rgba(255,238,70,0.80)"/>
<rect x="223.1" y="752.71" width="77.1" height="1.6" fill="rgba(246,236,152,0.66)"/>
<rect x="300.2" y="752.71" width="116.8" height="1.6" fill="rgba(255,238,70,0.80)"/>
<rect x="223.1" y="756.10" width="81.9" height="1.6" fill="rgba(246,236,152,0.66)"/>
<rect x="305.0" y="756.10" width="89.2" height="1.6" fill="rgba(255,238,70,0.80)"/>
<rect x="223.1" y="759.49" width="81.4" height="1.6" fill="rgba(246,236,152,0.66)"/>
<rect x="304.5" y="759.49" width="81.1" height="1.6" fill="rgba(255,238,70,0.80)"/>
<rect x="223.1" y="762.88" width="90.7" height="1.6" fill="rgba(246,236,152,0.66)"/>
<rect x="313.8" y="762.88" width="67.3" height="1.6" fill="rgba(255,238,70,0.80)"/>
<rect x="223.1" y="766.27" width="83.4" height="1.6" fill="rgba(246,236,152,0.66)"/>
<rect x="306.5" y="766.27" width="65.5" height="1.6" fill="rgba(255,238,70,0.80)"/>
<rect x="223.1" y="769.66" width="74.8" height="1.6" fill="rgba(246,236,152,0.66)"/>
<rect x="297.9" y="769.66" width="56.4" height="1.6" fill="rgba(255,238,70,0.80)"/>
<rect x="223.1" y="773.05" width="55.9" height="1.6" fill="rgba(246,236,152,0.66)"/>
<rect x="279.0" y="773.05" width="70.8" height="1.6" fill="rgba(255,238,70,0.80)"/>
<rect x="223.1" y="776.44" width="58.1" height="1.6" fill="rgba(246,236,152,0.66)"/>
<rect x="281.2" y="776.44" width="65.2" height="1.6" fill="rgba(255,238,70,0.80)"/>
<rect x="223.1" y="779.83" width="58.7" height="1.6" fill="rgba(246,236,152,0.66)"/>
<rect x="281.8" y="779.83" width="69.2" height="1.6" fill="rgba(255,238,70,0.80)"/>
<rect x="223.1" y="783.22" width="82.1" height="1.6" fill="rgba(246,236,152,0.66)"/>
<rect x="305.2" y="783.22" width="60.8" height="1.6" fill="rgba(255,238,70,0.80)"/>
<rect x="223.1" y="786.61" width="89.5" height="1.6" fill="rgba(246,236,152,0.66)"/>
<rect x="312.6" y="786.61" width="62.0" height="1.6" fill="rgba(255,238,70,0.80)"/>
<rect x="223.1" y="790.00" width="63.0" height="1.6" fill="rgba(246,236,152,0.66)"/>
<rect x="286.1" y="790.00" width="89.5" height="1.6" fill="rgba(255,238,70,0.80)"/>
<rect x="223.1" y="793.39" width="68.3" height="1.6" fill="rgba(246,236,152,0.66)"/>
<rect x="291.4" y="793.39" width="94.9" height="1.6" fill="rgba(255,238,70,0.80)"/>
<rect x="223.1" y="796.78" width="77.0" height="1.6" fill="rgba(246,236,152,0.66)"/>
<rect x="300.1" y="796.78" width="101.7" height="1.6" fill="rgba(255,238,70,0.80)"/>
<rect x="223.1" y="800.17" width="77.7" height="1.6" fill="rgba(246,236,152,0.66)"/>
<rect x="300.8" y="800.17" width="102.5" height="1.6" fill="rgba(255,238,70,0.80)"/>
<rect x="223.1" y="803.56" width="84.3" height="1.6" fill="rgba(246,236,152,0.66)"/>
<rect x="307.4" y="803.56" width="88.9" height="1.6" fill="rgba(255,238,70,0.80)"/>
<rect x="223.1" y="806.95" width="85.2" height="1.6" fill="rgba(246,236,152,0.66)"/>
<rect x="308.3" y="806.95" width="82.0" height="1.6" fill="rgba(255,238,70,0.80)"/>
<rect x="223.1" y="810.34" width="73.4" height="1.6" fill="rgba(246,236,152,0.66)"/>
<rect x="296.5" y="810.34" width="94.2" height="1.6" fill="rgba(255,238,70,0.80)"/>
<rect x="223.1" y="813.73" width="54.4" height="1.6" fill="rgba(246,236,152,0.66)"/>
<rect x="277.5" y="813.73" width="88.5" height="1.6" fill="rgba(255,238,70,0.80)"/>
<rect x="223.1" y="817.12" width="66.1" height="1.6" fill="rgba(246,236,152,0.66)"/>
<rect x="289.2" y="817.12" width="73.9" height="1.6" fill="rgba(255,238,70,0.80)"/>
<rect x="223.1" y="820.51" width="74.6" height="1.6" fill="rgba(246,236,152,0.66)"/>
<rect x="297.7" y="820.51" width="87.2" height="1.6" fill="rgba(255,238,70,0.80)"/>
<rect x="223.1" y="823.90" width="95.6" height="1.6" fill="rgba(246,236,152,0.66)"/>
<rect x="318.7" y="823.90" width="93.9" height="1.6" fill="rgba(255,238,70,0.80)"/>
<rect x="223.1" y="827.29" width="120.7" height="1.6" fill="rgba(246,236,152,0.66)"/>
<rect x="343.8" y="827.29" width="84.0" height="1.6" fill="rgba(255,238,70,0.80)"/>
<rect x="223.1" y="830.68" width="113.0" height="1.6" fill="rgba(246,236,152,0.66)"/>
<rect x="336.1" y="830.68" width="99.4" height="1.6" fill="rgba(255,238,70,0.80)"/>
<rect x="223.1" y="834.07" width="99.8" height="1.6" fill="rgba(220,214,92,0.30)"/>
<rect x="322.9" y="834.07" width="102.4" height="1.6" fill="rgba(230,220,70,0.33)"/>
<rect x="223.1" y="837.46" width="102.6" height="1.6" fill="rgba(220,214,92,0.30)"/>
<rect x="325.7" y="837.46" width="96.3" height="1.6" fill="rgba(230,220,70,0.33)"/>
<rect x="223.1" y="840.85" width="104.5" height="1.6" fill="rgba(220,214,92,0.30)"/>
<rect x="327.6" y="840.85" width="93.1" height="1.6" fill="rgba(230,220,70,0.33)"/>
<rect x="223.1" y="844.24" width="78.4" height="1.6" fill="rgba(220,214,92,0.30)"/>
<rect x="301.5" y="844.24" width="121.6" height="1.6" fill="rgba(230,220,70,0.33)"/>
<rect x="223.1" y="847.63" width="118.2" height="1.6" fill="rgba(220,214,92,0.30)"/>
<rect x="341.3" y="847.63" width="86.4" height="1.6" fill="rgba(230,220,70,0.33)"/>
<rect x="223.1" y="851.02" width="112.9" height="1.6" fill="rgba(220,214,92,0.30)"/>
<rect x="336.0" y="851.02" width="91.8" height="1.6" fill="rgba(230,220,70,0.33)"/>
<rect x="223.1" y="854.41" width="119.4" height="1.6" fill="rgba(220,214,92,0.30)"/>
<rect x="342.5" y="854.41" width="89.2" height="1.6" fill="rgba(230,220,70,0.33)"/>
<rect x="223.1" y="857.80" width="109.9" height="1.6" fill="rgba(220,214,92,0.30)"/>
<rect x="333.0" y="857.80" width="87.9" height="1.6" fill="rgba(230,220,70,0.33)"/>
<rect x="223.1" y="861.19" width="79.4" height="1.6" fill="rgba(220,214,92,0.30)"/>
<rect x="302.5" y="861.19" width="90.9" height="1.6" fill="rgba(230,220,70,0.33)"/>
<rect x="223.1" y="864.58" width="73.6" height="1.6" fill="rgba(220,214,92,0.30)"/>
<rect x="296.7" y="864.58" width="83.8" height="1.6" fill="rgba(230,220,70,0.33)"/>
<rect x="223.1" y="867.97" width="56.3" height="1.6" fill="rgba(220,214,92,0.30)"/>
<rect x="279.4" y="867.97" width="83.6" height="1.6" fill="rgba(230,220,70,0.33)"/>
<rect x="223.1" y="871.36" width="72.0" height="1.6" fill="rgba(220,214,92,0.30)"/>
<rect x="295.1" y="871.36" width="66.6" height="1.6" fill="rgba(230,220,70,0.33)"/>
<rect x="223.1" y="874.75" width="47.6" height="1.6" fill="rgba(220,214,92,0.30)"/>
<rect x="270.7" y="874.75" width="73.3" height="1.6" fill="rgba(230,220,70,0.33)"/>
<rect x="223.1" y="878.14" width="44.4" height="1.6" fill="rgba(220,214,92,0.30)"/>
<rect x="267.5" y="878.14" width="68.1" height="1.6" fill="rgba(230,220,70,0.33)"/>
<rect x="223.1" y="881.53" width="47.4" height="1.6" fill="rgba(220,214,92,0.30)"/>
<rect x="270.5" y="881.53" width="64.0" height="1.6" fill="rgba(230,220,70,0.33)"/>
<rect x="223.1" y="884.92" width="46.7" height="1.6" fill="rgba(220,214,92,0.30)"/>
<rect x="269.8" y="884.92" width="65.6" height="1.6" fill="rgba(230,220,70,0.33)"/>
<rect x="223.1" y="888.31" width="51.5" height="1.6" fill="rgba(220,214,92,0.30)"/>
<rect x="274.6" y="888.31" width="61.7" height="1.6" fill="rgba(230,220,70,0.33)"/>
<rect x="223.1" y="891.70" width="44.7" height="1.6" fill="rgba(220,214,92,0.30)"/>
<rect x="267.8" y="891.70" width="69.5" height="1.6" fill="rgba(230,220,70,0.33)"/>
<rect x="223.1" y="895.09" width="43.9" height="1.6" fill="rgba(220,214,92,0.30)"/>
<rect x="267.0" y="895.09" width="71.7" height="1.6" fill="rgba(230,220,70,0.33)"/>
<rect x="223.1" y="898.48" width="48.7" height="1.6" fill="rgba(220,214,92,0.30)"/>
<rect x="271.8" y="898.48" width="69.1" height="1.6" fill="rgba(230,220,70,0.33)"/>
<rect x="223.1" y="901.87" width="48.3" height="1.6" fill="rgba(220,214,92,0.30)"/>
<rect x="271.4" y="901.87" width="71.8" height="1.6" fill="rgba(230,220,70,0.33)"/>
<rect x="223.1" y="905.26" width="56.3" height="1.6" fill="rgba(220,214,92,0.30)"/>
<rect x="279.4" y="905.26" width="66.1" height="1.6" fill="rgba(230,220,70,0.33)"/>
<rect x="223.1" y="908.65" width="47.7" height="1.6" fill="rgba(220,214,92,0.30)"/>
<rect x="270.8" y="908.65" width="76.0" height="1.6" fill="rgba(230,220,70,0.33)"/>
<rect x="223.1" y="912.04" width="71.4" height="1.6" fill="rgba(220,214,92,0.30)"/>
<rect x="294.5" y="912.04" width="53.3" height="1.6" fill="rgba(230,220,70,0.33)"/>
<rect x="223.1" y="915.43" width="64.7" height="1.6" fill="rgba(220,214,92,0.30)"/>
<rect x="287.8" y="915.43" width="61.0" height="1.6" fill="rgba(230,220,70,0.33)"/>
<rect x="223.1" y="918.82" width="51.9" height="1.6" fill="rgba(220,214,92,0.30)"/>
<rect x="275.0" y="918.82" width="73.9" height="1.6" fill="rgba(230,220,70,0.33)"/>
<rect x="223.1" y="922.21" width="53.3" height="1.6" fill="rgba(220,214,92,0.30)"/>
<rect x="276.4" y="922.21" width="69.1" height="1.6" fill="rgba(230,220,70,0.33)"/>
<rect x="223.1" y="925.60" width="53.8" height="1.6" fill="rgba(220,214,92,0.30)"/>
<rect x="276.9" y="925.60" width="64.1" height="1.6" fill="rgba(230,220,70,0.33)"/>
<rect x="223.1" y="928.99" width="51.9" height="1.6" fill="rgba(220,214,92,0.30)"/>
<rect x="275.0" y="928.99" width="60.9" height="1.6" fill="rgba(230,220,70,0.33)"/>
<rect x="223.1" y="932.38" width="40.5" height="1.6" fill="rgba(220,214,92,0.30)"/>
<rect x="263.6" y="932.38" width="59.1" height="1.6" fill="rgba(230,220,70,0.33)"/>
<rect x="223.1" y="935.77" width="47.3" height="1.6" fill="rgba(220,214,92,0.30)"/>
<rect x="270.4" y="935.77" width="36.2" height="1.6" fill="rgba(230,220,70,0.33)"/>
<rect x="223.1" y="939.16" width="47.4" height="1.6" fill="rgba(220,214,92,0.30)"/>
<rect x="270.5" y="939.16" width="31.8" height="1.6" fill="rgba(230,220,70,0.33)"/>
<rect x="223.1" y="942.55" width="38.0" height="1.6" fill="rgba(220,214,92,0.30)"/>
<rect x="261.1" y="942.55" width="40.7" height="1.6" fill="rgba(230,220,70,0.33)"/>
<rect x="223.1" y="945.94" width="33.8" height="1.6" fill="rgba(220,214,92,0.30)"/>
<rect x="256.9" y="945.94" width="35.6" height="1.6" fill="rgba(230,220,70,0.33)"/>
<rect x="223.1" y="949.33" width="22.8" height="1.6" fill="rgba(220,214,92,0.30)"/>
<rect x="245.9" y="949.33" width="34.3" height="1.6" fill="rgba(230,220,70,0.33)"/>
<rect x="223.1" y="952.72" width="20.8" height="1.6" fill="rgba(220,214,92,0.30)"/>
<rect x="243.9" y="952.72" width="30.8" height="1.6" fill="rgba(230,220,70,0.33)"/>
<rect x="223.1" y="956.11" width="20.1" height="1.6" fill="rgba(220,214,92,0.30)"/>
<rect x="243.2" y="956.11" width="24.1" height="1.6" fill="rgba(230,220,70,0.33)"/>
<rect x="223.1" y="959.50" width="17.4" height="1.6" fill="rgba(220,214,92,0.30)"/>
<rect x="240.5" y="959.50" width="22.4" height="1.6" fill="rgba(230,220,70,0.33)"/>
<rect x="223.1" y="962.89" width="19.7" height="1.6" fill="rgba(220,214,92,0.30)"/>
<rect x="242.8" y="962.89" width="15.3" height="1.6" fill="rgba(230,220,70,0.33)"/>
<rect x="223.1" y="966.28" width="10.2" height="1.6" fill="rgba(220,214,92,0.30)"/>
<rect x="233.3" y="966.28" width="14.3" height="1.6" fill="rgba(230,220,70,0.33)"/>
<rect x="223.1" y="969.67" width="8.0" height="1.6" fill="rgba(220,214,92,0.30)"/>
<rect x="231.1" y="969.67" width="12.7" height="1.6" fill="rgba(230,220,70,0.33)"/>
<rect x="223.1" y="973.06" width="11.0" height="1.6" fill="rgba(220,214,92,0.30)"/>
<rect x="234.1" y="973.06" width="7.7" height="1.6" fill="rgba(230,220,70,0.33)"/>
<rect x="223.1" y="976.45" width="8.4" height="1.6" fill="rgba(220,214,92,0.30)"/>
<rect x="231.5" y="976.45" width="8.5" height="1.6" fill="rgba(230,220,70,0.33)"/>
<rect x="223.1" y="979.84" width="6.2" height="1.6" fill="rgba(220,214,92,0.30)"/>
<rect x="229.3" y="979.84" width="8.9" height="1.6" fill="rgba(230,220,70,0.33)"/>
<rect x="223.1" y="983.23" width="6.7" height="1.6" fill="rgba(220,214,92,0.30)"/>
<rect x="229.8" y="983.23" width="6.7" height="1.6" fill="rgba(230,220,70,0.33)"/>
<line x1="223" y1="690" x2="1317" y2="690" stroke="#e62a24" stroke-width="3.8"/>
<line x1="223.1" y1="597" x2="1318" y2="597" stroke="#e0372f" stroke-width="3.8" stroke-dasharray="3.9 8.1"/>
<line x1="223.1" y1="835" x2="1318" y2="835" stroke="#e0372f" stroke-width="3.8" stroke-dasharray="3.9 8.1"/>
<line x1="1123" y1="518" x2="2113" y2="518" stroke="#5f7266" stroke-width="1.3" stroke-dasharray="1.4 4.63"/>
<line x1="1266.8" y1="751.1" x2="1533" y2="751.1" stroke="#6fdc72" stroke-width="3.6" stroke-dasharray="3.6 8.45"/>
<line x1="1266.8" y1="766.1" x2="1533" y2="766.1" stroke="#6fdc72" stroke-width="3.6" stroke-dasharray="3.6 8.45"/>
<path d="M222.9 1076.0 C223.3 1072.3 224.6 1060.0 225.3 1054.0 C226.0 1048.0 226.5 1044.0 227.1 1040.0 C227.7 1036.0 227.9 1033.4 228.8 1030.0 C229.7 1026.6 230.2 1024.5 232.3 1019.4 C234.4 1014.3 238.4 1006.2 241.5 999.6 C244.6 993.0 247.9 986.8 250.8 979.8 C253.7 972.8 256.3 964.1 258.8 957.6 C261.3 951.1 263.4 945.8 265.6 940.8 C267.9 935.8 269.2 931.3 272.3 927.4 C275.4 923.5 280.1 919.4 284.0 917.6 C287.9 915.8 291.0 916.6 295.8 916.4 C300.6 916.2 307.6 916.5 312.6 916.4 C317.6 916.3 321.5 916.4 326.0 915.6 C330.5 914.9 335.6 912.5 339.5 911.9 C343.4 911.3 345.9 911.6 349.5 911.9 C353.1 912.2 357.4 913.7 361.3 913.6 C365.2 913.5 369.2 912.2 373.1 911.4 C377.0 910.5 379.8 910.2 384.8 908.5 C389.8 906.8 398.5 904.9 403.3 901.3 C408.1 897.7 410.6 890.5 413.4 887.0 C416.2 883.5 417.3 882.7 420.1 880.3 C422.9 877.9 425.2 875.9 430.2 872.8 C435.2 869.7 444.7 865.9 450.3 861.8 C455.9 857.7 458.8 853.4 463.8 848.4 C468.9 843.4 473.6 836.8 480.6 831.5 C487.6 826.2 497.4 820.6 505.8 816.4 C514.2 812.2 522.6 809.4 531.0 806.3 C539.4 803.2 548.9 800.1 556.2 797.9 C563.5 795.7 566.0 794.3 575.0 792.9 C584.0 791.5 593.3 791.9 610.4 789.6 C627.5 787.3 658.0 781.3 677.6 779.0 C697.2 776.7 708.4 776.8 728.0 775.6 C747.6 774.4 775.6 772.8 795.2 771.9 C814.8 771.0 833.0 770.5 845.6 770.2 C858.2 769.9 862.4 769.6 870.8 770.2 C879.2 770.8 885.3 772.8 896.0 773.6 C906.7 774.4 918.1 774.6 935.0 775.0 C951.9 775.4 978.4 775.8 997.2 775.8 C1016.0 775.8 1033.6 775.5 1047.6 774.9 C1061.6 774.3 1067.2 773.8 1081.2 772.4 C1095.2 771.0 1114.8 768.2 1131.6 766.5 C1148.4 764.8 1165.2 763.2 1182.0 762.3 C1198.8 761.4 1219.8 761.4 1232.4 761.1 C1245.0 760.8 1249.8 761.2 1257.6 760.3 C1265.4 759.4 1270.7 757.0 1279.4 755.9 C1288.1 754.8 1293.2 755.0 1310.0 753.9 C1326.8 752.8 1352.2 750.5 1380.0 749.5 C1407.8 748.5 1460.5 748.4 1476.6 748.2" fill="none" stroke="#4fc9e8" stroke-width="4" stroke-linejoin="round"/>
<line x1="1199.6" y1="771.6" x2="1429.4" y2="673.5" stroke="#e02a24" stroke-width="3.4" stroke-linecap="butt"/>
<line x1="0" y1="558.6" x2="2200" y2="27.7" stroke="#fdec2a" stroke-width="4.1"/>
<line x1="100" y1="1088.7" x2="2200" y2="582.1" stroke="#fdec2a" stroke-width="4.1"/>
<line x1="2104" y1="328.6" x2="0" y2="835.4" stroke="#cbbf38" stroke-width="1.7" stroke-dasharray="10.1 11.85"/>
</g>
<rect x="2112.2" y="54.3" width="1.7" height="1074.9" fill="#55555e"/>
<rect x="20.3" y="1074" width="2235.3" height="2.1" fill="#5a5a64"/>
<rect x="20.3" y="54.3" width="2235.3" height="1074.9" fill="none" stroke="#46464d" stroke-width="1"/>
<text x="37" y="94.2" font-size="23.4" fill="#55555c" textLength="489" lengthAdjust="spacingAndGlyphs">ASTERUSDT Perpetual Contract · 4h · Bybit</text>
<text x="541" y="94.2" font-size="23.4" fill="#2aa84a" textLength="199.5" lengthAdjust="spacingAndGlyphs">+0.0411 (+2.30%)</text>
<rect x="2120" y="62" width="128" height="52.5" rx="7" fill="#0f0f11" stroke="#37373d" stroke-width="1.3"/>
<text x="2139.5" y="96.1" font-size="24.6" fill="#dcdce0" textLength="62.5" lengthAdjust="spacingAndGlyphs">USDT</text>
<text x="2132.3" y="197.4" font-size="23" fill="#76767e" textLength="79.4" lengthAdjust="spacingAndGlyphs">3.0000</text>
<text x="2132.3" y="290.5" font-size="23" fill="#76767e" textLength="79.4" lengthAdjust="spacingAndGlyphs">2.8000</text>
<text x="2132.3" y="383.6" font-size="23" fill="#76767e" textLength="79.4" lengthAdjust="spacingAndGlyphs">2.6000</text>
<text x="2132.3" y="476.8" font-size="23" fill="#76767e" textLength="79.4" lengthAdjust="spacingAndGlyphs">2.4000</text>
<text x="2132.3" y="569.9" font-size="23" fill="#76767e" textLength="79.4" lengthAdjust="spacingAndGlyphs">2.2000</text>
<text x="2132.3" y="663.0" font-size="23" fill="#76767e" textLength="79.4" lengthAdjust="spacingAndGlyphs">2.0000</text>
<text x="2132.3" y="849.2" font-size="23" fill="#76767e" textLength="79.4" lengthAdjust="spacingAndGlyphs">1.6000</text>
<text x="2132.3" y="942.4" font-size="23" fill="#76767e" textLength="79.4" lengthAdjust="spacingAndGlyphs">1.4000</text>
<text x="2132.3" y="1035.5" font-size="23" fill="#76767e" textLength="79.4" lengthAdjust="spacingAndGlyphs">1.2000</text>
<path d="M2113.9 501.3 H2220.3 a3.5 3.5 0 0 1 3.5 3.5 V531.4 a3.5 3.5 0 0 1 -3.5 3.5 H2113.9 Z" fill="#1e6a2a"/>
<text x="2132.3" y="526" font-size="23" fill="#ffffff" textLength="79.4" lengthAdjust="spacingAndGlyphs">2.2948</text>
<path d="M2113.9 657.1 H2220.3 a3.5 3.5 0 0 1 3.5 3.5 V687.4 a3.5 3.5 0 0 1 -3.5 3.5 H2113.9 Z" fill="#df2320"/>
<text x="2132.3" y="681.6" font-size="23" fill="#ffffff" textLength="79.4" lengthAdjust="spacingAndGlyphs">1.9595</text>
<path d="M2113.9 719.1 H2242.3 a3.5 3.5 0 0 1 3.5 3.5 V777.3 a3.5 3.5 0 0 1 -3.5 3.5 H2113.9 Z" fill="#22be3f"/>
<text x="2132.3" y="743.7" font-size="23" fill="#ffffff" textLength="79.4" lengthAdjust="spacingAndGlyphs">1.8262</text>
<text x="2132.3" y="771.6" font-size="23" fill="#c9f5cf" textLength="102.5" lengthAdjust="spacingAndGlyphs">03:19:18</text>
<path d="M2113.9 781.8 H2220.3 a3.5 3.5 0 0 1 3.5 3.5 V811.1 a3.5 3.5 0 0 1 -3.5 3.5 H2113.9 Z" fill="#df2320"/>
<text x="2132.3" y="805.6" font-size="23" fill="#ffffff" textLength="79.4" lengthAdjust="spacingAndGlyphs">1.7514</text>
<text x="148.5" y="1111.8" font-size="23.2" fill="#6f6f77" textLength="27.0" lengthAdjust="spacingAndGlyphs">20</text>
<text x="281.1" y="1111.8" font-size="23.2" fill="#6f6f77" textLength="27.0" lengthAdjust="spacingAndGlyphs">22</text>
<text x="413.7" y="1111.8" font-size="23.2" fill="#6f6f77" textLength="27.0" lengthAdjust="spacingAndGlyphs">24</text>
<text x="546.4" y="1111.8" font-size="23.2" fill="#6f6f77" textLength="27.0" lengthAdjust="spacingAndGlyphs">26</text>
<text x="679.0" y="1111.8" font-size="23.2" fill="#6f6f77" textLength="27.0" lengthAdjust="spacingAndGlyphs">28</text>
<text x="871.0" y="1111.8" font-size="23.2" fill="#6f6f77" textLength="40.8" lengthAdjust="spacingAndGlyphs" font-weight="bold">Oct</text>
<text x="1017.6" y="1111.8" font-size="23.2" fill="#6f6f77" textLength="12.8" lengthAdjust="spacingAndGlyphs">3</text>
<text x="1150.2" y="1111.8" font-size="23.2" fill="#6f6f77" textLength="12.8" lengthAdjust="spacingAndGlyphs">5</text>
<text x="1282.9" y="1111.8" font-size="23.2" fill="#6f6f77" textLength="12.8" lengthAdjust="spacingAndGlyphs">7</text>
<text x="1415.5" y="1111.8" font-size="23.2" fill="#6f6f77" textLength="12.8" lengthAdjust="spacingAndGlyphs">9</text>
<text x="1541.0" y="1111.8" font-size="23.2" fill="#6f6f77" textLength="27.0" lengthAdjust="spacingAndGlyphs">11</text>
<text x="1673.7" y="1111.8" font-size="23.2" fill="#6f6f77" textLength="27.0" lengthAdjust="spacingAndGlyphs">13</text>
<text x="1806.3" y="1111.8" font-size="23.2" fill="#6f6f77" textLength="27.0" lengthAdjust="spacingAndGlyphs">15</text>
<text x="1938.9" y="1111.8" font-size="23.2" fill="#6f6f77" textLength="27.0" lengthAdjust="spacingAndGlyphs">17</text>
<text x="2071.5" y="1111.8" font-size="23.2" fill="#6f6f77" textLength="27.0" lengthAdjust="spacingAndGlyphs">19</text>
<text x="578.3" y="583.4" font-size="54.5" font-weight="bold" font-style="italic" fill="#7f7d82" textLength="402" lengthAdjust="spacingAndGlyphs">value area high</text>
<text x="930.6" y="667.8" font-size="47" font-weight="bold" font-style="italic" fill="#7f7d82" textLength="85.6" lengthAdjust="spacingAndGlyphs">poc</text>
<text x="489.3" y="880.8" font-size="48" font-weight="bold" font-style="italic" fill="#7f7d82" textLength="317" lengthAdjust="spacingAndGlyphs">value area low</text>
<text x="1042.4" y="387.3" font-size="55.5" font-weight="bold" font-style="italic" fill="#a03f65" textLength="483" lengthAdjust="spacingAndGlyphs">price is at support</text>
<text x="1043" y="442.8" font-size="55.5" font-weight="bold" font-style="italic" fill="#a03f65" textLength="482.6" lengthAdjust="spacingAndGlyphs">of trading channel</text>
<text x="1653.5" y="209.6" font-size="56" font-weight="bold" font-style="italic" fill="#fba530" textLength="293.7" lengthAdjust="spacingAndGlyphs">$3 channel</text>
<text x="1649.8" y="265.9" font-size="56" font-weight="bold" font-style="italic" fill="#fba530" textLength="292.6" lengthAdjust="spacingAndGlyphs">high target</text>
<text x="1311.9" y="868" font-size="57" font-weight="bold" font-style="italic" fill="#fba530" textLength="209.4" lengthAdjust="spacingAndGlyphs">support</text>
<text x="1286.4" y="924.2" font-size="57" font-weight="bold" font-style="italic" fill="#fba530" textLength="294.9" lengthAdjust="spacingAndGlyphs">confluence</text>
<text transform="translate(822.9 332.3) rotate(-13.62)" x="0" y="0" font-size="53" fill="#fdec2a" textLength="499" lengthAdjust="spacingAndGlyphs">HTF trading channel</text>
<text x="1549.6" y="759.1" font-size="22" fill="#5fd26e" textLength="64.6" lengthAdjust="spacingAndGlyphs">0.618</text>
<text x="1549.6" y="774.7" font-size="22" fill="#5fd26e" textLength="48.6" lengthAdjust="spacingAndGlyphs">0.66</text>
<circle cx="471" cy="445.8" r="33" fill="none" stroke="#fba530" stroke-width="4.1"/>
<circle cx="924.1" cy="888.3" r="33" fill="none" stroke="#fba530" stroke-width="4.1"/>
<circle cx="1488.1" cy="756.1" r="32.7" fill="none" stroke="#fba530" stroke-width="4"/>
<path d="M1498.4 771.3 C1500.4 773.1 1507.2 778.2 1510.5 782.1 C1513.8 786.0 1516.4 791.0 1518.2 794.9 C1520.0 798.8 1521.3 801.6 1521.4 805.2 C1521.5 808.8 1520.7 813.3 1518.9 816.7 C1517.1 820.1 1513.8 823.4 1510.5 825.7 C1507.2 828.1 1502.8 829.1 1499.0 830.8 C1495.2 832.5 1489.4 835.0 1487.5 835.9" fill="none" stroke="#fba530" stroke-width="3.2" stroke-linecap="round"/>
<path d="M1528.4 771 L1498.4 771.3 L1499.3 801.3" fill="none" stroke="#fba530" stroke-width="3.2" stroke-linecap="round" stroke-linejoin="miter"/>
<path d="M1475.5 723.0 C1476.7 724.8 1479.8 729.8 1482.4 733.5 C1485.0 737.2 1488.3 741.8 1491.3 745.0 C1494.3 748.2 1497.5 751.2 1500.3 752.7 C1503.1 754.2 1505.5 754.4 1508.0 754.2 C1510.5 754.0 1512.9 753.0 1515.2 751.6 C1517.5 750.2 1520.0 748.3 1521.9 746.0 C1523.8 743.7 1525.0 741.0 1526.7 738.0 C1528.4 735.0 1530.2 731.7 1532.1 728.0 C1534.0 724.3 1535.9 720.7 1538.0 716.0 C1540.1 711.3 1542.4 706.0 1544.7 700.0 C1547.0 694.0 1549.4 687.5 1551.7 680.0 C1554.0 672.5 1556.5 664.2 1558.8 655.0 C1561.1 645.8 1563.5 635.8 1565.7 625.0 C1567.9 614.2 1570.0 602.5 1572.1 590.0 C1574.2 577.5 1576.3 564.2 1578.5 550.0 C1580.7 535.8 1582.9 520.8 1585.2 505.0 C1587.5 489.2 1589.9 472.5 1592.3 455.0 C1594.7 437.5 1597.3 418.3 1599.5 400.0 C1601.7 381.7 1603.8 363.3 1605.6 345.0 C1607.4 326.7 1608.8 308.3 1610.3 290.0 C1611.8 271.7 1612.7 253.2 1614.4 235.0 C1616.1 216.8 1619.4 189.6 1620.4 180.5" fill="none" stroke="#ffffff" stroke-width="3.7" stroke-linecap="round" stroke-linejoin="round"/>
<path d="M1598.3 200.1 L1620.4 179.8 L1639.1 204" fill="none" stroke="#ffffff" stroke-width="3.7" stroke-linecap="round" stroke-linejoin="round"/>
<rect x="1520" y="163" width="13" height="1.2" fill="#2a2a2e"/>
<rect x="1473" y="1071.2" width="9" height="2" fill="#5c5c5c"/>
<circle cx="1477.2" cy="1049.1" r="19.6" fill="#121212" stroke="#c45bd6" stroke-width="3.1"/>
<path d="M1482.9 1038.5 L1468.3 1049.5 L1477.2 1050 L1471.2 1059.3 L1485.8 1048.3 L1477.9 1047.8 Z" fill="#c45bd6" stroke="#c45bd6" stroke-width="0.8" stroke-linejoin="round"/>
<g fill="#131313"><path d="M24 1174 H48 V1204 H36.2 V1186.3 H24 Z"/><circle cx="58.7" cy="1180" r="5.8"/><path d="M66.3 1174 H83.5 L73.4 1204 H58.7 Z"/></g>
<text x="98" y="1204" font-size="42.6" font-weight="bold" fill="#131313" textLength="241" lengthAdjust="spacingAndGlyphs">TradingView</text>
</svg></body></html>
